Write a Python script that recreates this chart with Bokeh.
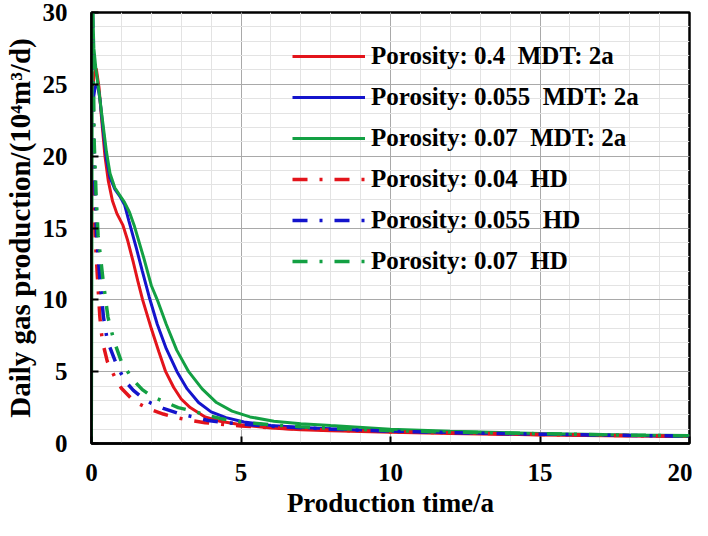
from bokeh.plotting import figure
from bokeh.models import Legend, LegendItem, SingleIntervalTicker, Range1d
from bokeh.embed import file_html
from bokeh.resources import INLINE

# ---- data ----
x_mdt_04 = [0.02, 0.1, 0.16, 0.25, 0.35, 0.45, 0.56, 0.7, 0.85, 1.05, 1.2, 1.4, 1.55, 1.71, 2.0, 2.25,
            2.48, 2.75, 3.0, 3.3, 3.8, 4.3, 5, 6, 7, 8, 10, 12, 15, 18, 20]
y_mdt_04 = [24.5, 25.8, 26.1, 24.8, 22.3, 20.0, 18.3, 16.9, 16.0, 15.2, 14.2, 12.6, 11.3, 10.0, 8.0, 6.4,
            5.0, 3.9, 3.1, 2.5, 1.85, 1.55, 1.3, 1.08, 0.95, 0.88, 0.78, 0.7, 0.6, 0.52, 0.48]

x_mdt_055 = [0.03, 0.12, 0.2, 0.28, 0.38, 0.5, 0.62, 0.78, 0.95, 1.11, 1.25, 1.5, 1.7, 1.93, 2.2, 2.5,
             2.86, 3.2, 3.58, 4.0, 4.5, 5.1, 6, 7, 8, 10, 12, 15, 18, 20]
y_mdt_055 = [23.5, 24.8, 25.0, 24.0, 22.0, 19.8, 18.5, 17.7, 17.2, 16.6, 15.5, 13.6, 12.0, 10.2, 8.3, 6.6,
             5.0, 3.8, 2.85, 2.2, 1.8, 1.5, 1.25, 1.12, 1.02, 0.86, 0.76, 0.64, 0.55, 0.5]

x_mdt_07 = [0.0, 0.03, 0.08, 0.15, 0.25, 0.38, 0.5, 0.62, 0.78, 0.94, 1.1, 1.27, 1.44, 1.75, 2.0, 2.2,
            2.5, 2.85, 3.25, 3.7, 4.18, 4.7, 5.3, 6.1, 7, 8, 10, 12, 15, 18, 20]
y_mdt_07 = [0.0, 31.0, 27.5, 26.0, 24.5, 22.3, 20.3, 18.8, 17.8, 17.3, 16.8, 16.1, 15.1, 12.9, 11.0, 10.0,
            8.3, 6.5, 5.0, 3.8, 2.85, 2.25, 1.85, 1.55, 1.38, 1.25, 1.0, 0.85, 0.7, 0.6, 0.55]

x_hd_04 = [0.02, 0.05, 0.08, 0.12, 0.2, 0.28, 0.36, 0.53, 0.83, 1.0, 1.35, 1.6, 1.93, 2.4, 2.8, 3.3,
           3.8, 4.5, 5, 6, 7, 8, 10, 12, 15, 18, 20]
y_hd_04 = [30, 21, 17.5, 14.5, 11.5, 8.8, 7.15, 5.7, 4.4, 3.85, 3.1, 2.75, 2.4, 2.05, 1.82, 1.6,
           1.45, 1.3, 1.22, 1.1, 1.0, 0.93, 0.82, 0.74, 0.63, 0.55, 0.5]

x_hd_055 = [0.03, 0.07, 0.12, 0.17, 0.28, 0.4, 0.53, 0.8, 1.1, 1.4, 1.75, 2.0, 2.4, 2.9, 3.4, 3.9,
            4.5, 5, 6, 7, 8, 10, 12, 15, 18, 20]
y_hd_055 = [30, 21, 17.5, 14.5, 11.5, 8.8, 7.15, 5.7, 4.4, 3.7, 3.1, 2.8, 2.45, 2.1, 1.85, 1.6,
            1.45, 1.35, 1.2, 1.1, 1.0, 0.85, 0.76, 0.65, 0.56, 0.52]

x_hd_07 = [0.04, 0.09, 0.15, 0.22, 0.38, 0.55, 0.75, 1.0, 1.38, 1.7, 2.0, 2.5, 2.9, 3.4, 3.9, 4.4,
           5, 6, 7, 8, 10, 12, 15, 18, 20]
y_hd_07 = [30, 21, 17.5, 14.5, 11.5, 8.8, 7.15, 5.7, 4.45, 3.75, 3.3, 2.85, 2.5, 2.25, 1.95, 1.7,
           1.5, 1.3, 1.17, 1.06, 0.9, 0.8, 0.68, 0.58, 0.53]

labels = ["Porosity: 0.4  MDT: 2a", "Porosity: 0.055  MDT: 2a", "Porosity: 0.07  MDT: 2a",
          "Porosity: 0.04  HD", "Porosity: 0.055  HD", "Porosity: 0.07  HD"]

RED, BLUE, GREEN = "#E3141B", "#1414CC", "#13A043"
FONT = "Liberation Serif"

p = figure(width=692, height=520, output_backend="svg", toolbar_location=None,
           x_range=Range1d(0, 20), y_range=Range1d(0, 30),
           min_border_left=80, min_border_right=3, min_border_top=12, min_border_bottom=0,
           background_fill_color="white", border_fill_color="white")

for ax in (p.xaxis, p.yaxis):
    ax.axis_line_width = 2.5
    ax.axis_line_color = "black"
    ax.major_tick_in = 7
    ax.major_tick_out = 0
    ax.major_tick_line_width = 2
    ax.minor_tick_line_color = None
    ax.major_label_text_font = FONT
    ax.major_label_text_font_style = "bold"
    ax.major_label_text_font_size = "25px"
    ax.major_label_text_color = "black"
    ax.axis_label_text_font = FONT
    ax.axis_label_text_font_style = "bold"
    ax.axis_label_text_color = "black"

p.xaxis.axis_label_text_font_size = "27px"
p.yaxis.axis_label_text_font_size = "29px"
p.xaxis.ticker = SingleIntervalTicker(interval=5, num_minor_ticks=5)
p.yaxis.ticker = SingleIntervalTicker(interval=5, num_minor_ticks=5)
p.xaxis.axis_label = "Production time/a"
p.yaxis.axis_label = "Daily gas production/(10\u2074m\u00b3/d)"
p.xaxis.major_label_standoff = 16
p.xaxis.axis_label_standoff = 4
p.yaxis.major_label_standoff = 20
p.yaxis.axis_label_standoff = 4

for g in (p.xgrid, p.ygrid):
    g.grid_line_color = "#A9A9A9"
    g.grid_line_width = 1
    g.minor_grid_line_color = "#E3E3E3"
    g.minor_grid_line_width = 1

p.outline_line_color = "black"
p.outline_line_width = 2.5

r1 = p.line(x_mdt_04, y_mdt_04, line_color=RED, line_width=3)
r2 = p.line(x_mdt_055, y_mdt_055, line_color=BLUE, line_width=3)
r3 = p.line(x_mdt_07, y_mdt_07, line_color=GREEN, line_width=3)
DASH = "15 12 3 12"
r4 = p.line(x_hd_04, y_hd_04, line_color=RED, line_width=3.5, line_dash=DASH)
r5 = p.line(x_hd_055, y_hd_055, line_color=BLUE, line_width=3.5, line_dash=DASH)
r6 = p.line(x_hd_07, y_hd_07, line_color=GREEN, line_width=3.5, line_dash=DASH)

items = [LegendItem(label=l, renderers=[r]) for l, r in zip(labels, [r1, r2, r3, r4, r5, r6])]
legend = Legend(items=items, location=(201, 168),
                label_text_font=FONT, label_text_font_style="bold", label_text_font_size="25px",
                label_text_color="black",
                glyph_width=73, glyph_height=26, label_height=26, spacing=13, label_standoff=6,
                padding=0, margin=0, background_fill_alpha=0, border_line_alpha=0)
p.add_layout(legend)

open("out.html", "w").write(file_html(p, INLINE))
